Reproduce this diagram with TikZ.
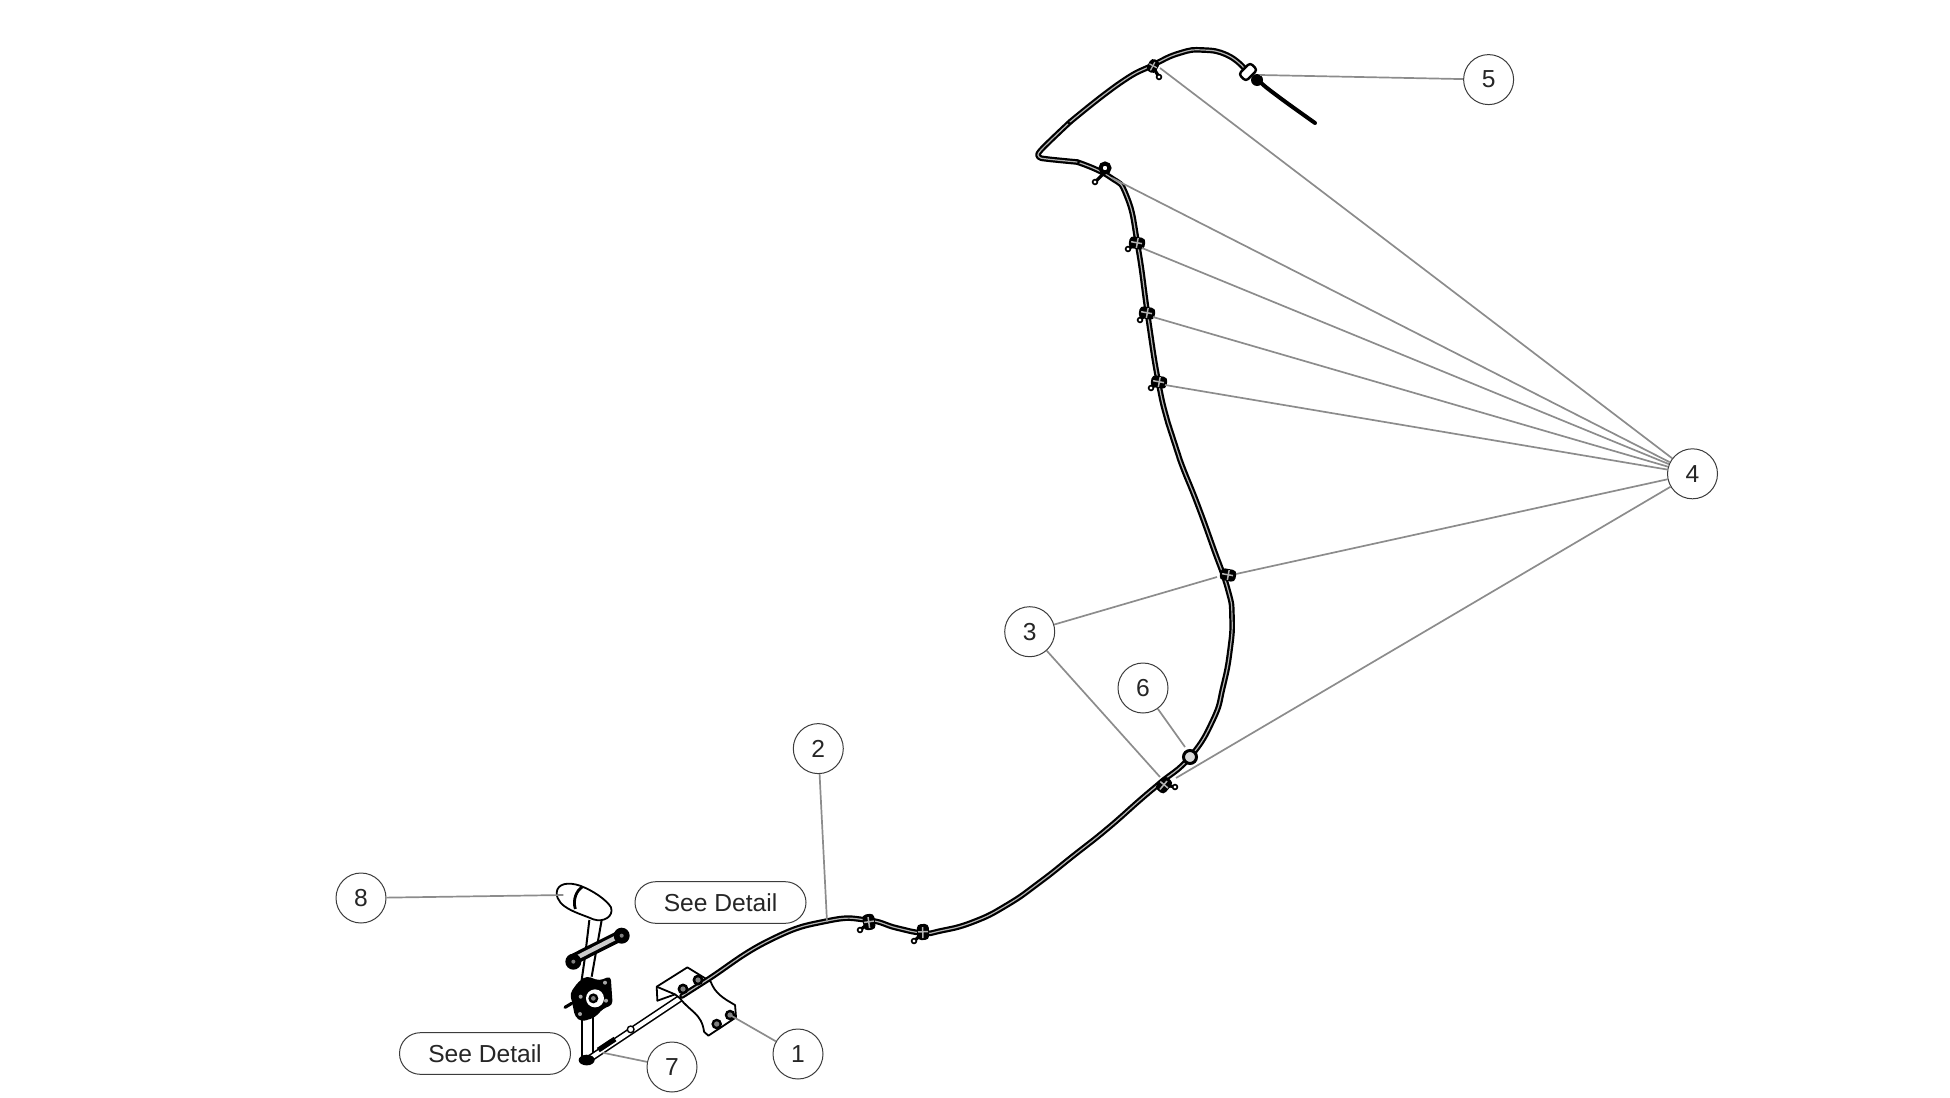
\documentclass[tikz,border=0pt]{standalone}
\usepackage{fontspec}
\setmainfont{Liberation Sans}
\usetikzlibrary{positioning}

\definecolor{leadergray}{HTML}{8C8C8C}
\definecolor{ringgray}{HTML}{3C3C3C}
\definecolor{cablecore}{HTML}{B4B4B4}

\newcommand{\cliptab}[2]{
	\draw[black, line width=1.6pt, line cap=round] #1 -- #2;
	\draw[black, line width=0.8pt, fill=white] #2 circle (2.4);
}

\tikzset{
	callout/.style={circle, draw=ringgray, line width=0.5pt, fill=white, inner sep=0pt, minimum size=25pt, font=\fontsize{12.3}{14}\selectfont, text=black!85},
	detailbox/.style={rounded corners=10.4pt, draw=ringgray, line width=0.5pt, fill=white, inner sep=0pt, minimum width=85.5pt, minimum height=20.8pt, font=\fontsize{12.3}{14}\selectfont, text=black!85},
	leader/.style={draw=leadergray, line width=0.85pt},
	cable/.style={draw=black, line width=1.1pt, double=cablecore, double distance=0.6pt, line cap=round, line join=round},
	thincable/.style={draw=black, line width=0.8pt, double=white, double distance=2.1pt},
	partline/.style={draw=black, line width=0.9pt, fill=white, line join=round},
	cableclip/.pic={
		\fill[black, rounded corners=2pt] (-6,-8) rectangle (6,8);
		\fill[cablecore] (-5,-1) rectangle (5,0.5);
		\fill[cablecore] (-1,-5) rectangle (0.5,6);
	},
}

\begin{document}
\begin{tikzpicture}[x=0.5pt, y=-0.5pt]
	\useasboundingbox (0,0) rectangle (1950,1098);

	% lever and bracket, in the coordinates of the crop
	\begin{scope}[shift={(540,870)}, x=0.1667pt, y=-0.1667pt]
		% shaft
		\draw[black, line width=1pt] (148,150) -- (135,260) -- (125,330);
		\draw[black, line width=1pt] (185,150) -- (155,320);
		\draw[black, line width=1pt] (125,430) -- (125,565);
		\draw[black, line width=1pt] (158,430) -- (158,550);
		% handle
		\draw[partline] (50,68) .. controls (52,40) and (85,35) .. (120,47) .. controls (160,62) and (200,90) .. (213,112) .. controls (222,140) and (190,158) .. (160,148) .. controls (120,130) and (50,115) .. (50,68);
		\draw[black, line width=1.4pt] (128,50) .. controls (108,62) and (98,90) .. (106,117);
		% cross bar
		\draw[black, line width=5.6pt, line cap=round] (100,268) -- (245,195);
		\draw[white!80!black, line width=2.2pt] (108,264) -- (235,199);
		\foreach \bx/\by in {100/275, 245/197} {
			\fill[black] (\bx,\by) circle (24);
			\fill[gray] (\bx,\by) circle (6);
		}
		% hub
		\fill[black, rounded corners=2pt] (140,318) -- (178,332) -- (212,318) -- (218,405) -- (190,415) -- (165,442) -- (125,455) -- (105,440) -- (98,405) -- (90,370) -- (115,335) -- cycle;
		\fill[white] (165,385) circle (27);
		\fill[black] (160,385) circle (15);
		\fill[gray] (160,385) circle (7);
		\foreach \bx/\by in {195/338, 198/392, 122/380, 120/432} {
			\fill[gray!70] (\bx,\by) circle (6);
		}
		\draw[black, line width=1.6pt, line cap=round] (95,400) -- (75,412);
		% lower cable run
		\draw[thincable] (150,565) -- (420,385);
		\fill[black] (140,570) ellipse (24 and 16);
		\draw[black, line width=2.6pt] (175,540) -- (225,507);
		\draw[black, line width=0.7pt, fill=white] (272,478) circle (10);
		% bracket
		\draw[partline] (420,385) .. controls (450,425) and (485,430) .. (492,485) -- (505,497) -- (588,442) -- (585,405) .. controls (550,385) and (525,370) .. (512,335) -- (442,292) -- (350,350) -- (352,392) -- (405,373) -- cycle;
		\draw[black, line width=0.9pt] (350,350) -- (405,373);
		\foreach \bx/\by in {530/462, 570/435} {
			\fill[black] (\bx,\by) circle (16);
			\fill[gray] (\bx,\by) circle (8);
		}
		\coordinate (handleend) at (70,75);
		\coordinate (cableend) at (188,548);
		\coordinate (boltend) at (570,435);
	\end{scope}

	% cable
	\draw[cable] plot[smooth, tension=0.85] coordinates {(682,996) (707,980) (770,940) (827,921) (867,920) (897,928) (923,933) (940,931) (973,922) (1007,905) (1040,882) (1073,856) (1107,829) (1140,800) (1160,783) (1190,757) (1213,720) (1223,687) (1230,650) (1232,617) (1228,590) (1213,547) (1197,503) (1180,460) (1168,423) (1158,380) (1148,317) (1138,247) (1127,197) (1110,177) (1077,162)};
	\draw[cable] plot[smooth, tension=0.55] coordinates {(1077,162) (1047,159) (1039,157) (1041,150) (1070,122)};
	\draw[cable] plot[smooth, tension=0.85] coordinates {(1070,122) (1120,83) (1153,65) (1180,53) (1203,50) (1227,55) (1244,68)};
	\draw[black, line width=2pt, line cap=round] plot[smooth, tension=0.5] coordinates {(1258,80) (1267,88) (1287,103) (1315,123)};

	% bolts on the cable
	\foreach \bx/\by in {683/989, 698/980} {
		\fill[black] (\bx,\by) circle (5.5);
		\fill[gray] (\bx,\by) circle (2.6);
	}

	% sleeve at the far end
	\draw[partline, line width=1.2pt, rounded corners=1.5pt, rotate around={45:(1248,72)}] (1240,67) rectangle (1256,77);
	\fill[black] (1257,80) circle (6);

	% clips
	\cliptab{(869,923)}{(860,930)}
	\cliptab{(923,933)}{(914,941)}
	\cliptab{(1165,785)}{(1175,787)}
	\cliptab{(1137,243)}{(1128,249)}
	\cliptab{(1147,313)}{(1140,320)}
	\cliptab{(1159,382)}{(1151,388)}
	\cliptab{(1153,67)}{(1159,77)}
	\cliptab{(1105,172)}{(1095,182)}
	\pic at (869,922) [rotate=8] {cableclip};
	\pic at (923,932) [rotate=2] {cableclip};
	\pic at (1164,785) [rotate=-40] {cableclip};
	\pic at (1228,575) [rotate=-100] {cableclip};
	\pic at (1159,382) [rotate=-100] {cableclip};
	\pic at (1147,313) [rotate=-100] {cableclip};
	\pic at (1137,243) [rotate=-100] {cableclip};
	\pic at (1153,66) [rotate=-28, scale=0.85] {cableclip};
	\draw[black, line width=2pt, fill=white] (1105,168) circle (4.5);

	% collar
	\draw[black, line width=1.5pt, fill=white!85!black] (1190,757) circle (6.5);

	% callouts
	\node[callout] (1) at (798,1054) {1};
	\node[callout] (2) at (818.3,748.6) {2};
	\node[callout] (3) at (1029.7,631.7) {3};
	\node[callout] (4) at (1692.5,473.8) {4};
	\node[callout] (5) at (1488.6,79.6) {5};
	\node[callout] (6) at (1143,688) {6};
	\node[callout] (7) at (672,1067) {7};
	\node[callout] (8) at (361,898) {8};
	\node[detailbox] (detail1) at (720.5,902.5) {See Detail};
	\node[detailbox] (detail2) at (485,1053.5) {See Detail};

	% ends of the leaders
	\coordinate (cable2) at (827,922);
	\coordinate (clip1) at (1160,68);
	\coordinate (clip2) at (1112,178);
	\coordinate (clip3) at (1142,248);
	\coordinate (clip4) at (1153,317);
	\coordinate (clip5) at (1165,385);
	\coordinate (clip6) at (1236,574);
	\coordinate (clip6b) at (1217,577);
	\coordinate (clip7) at (1176,778);
	\coordinate (clip7b) at (1160,777);
	\coordinate (tip5) at (1260,75);
	\coordinate (collar) at (1185,747);

	\begin{scope}[every path/.style={leader}]
		\draw (1) -- (boltend);
		\draw (2) -- (cable2);
		\draw (3) -- (clip6b);
		\draw (3) -- (clip7b);
		\draw (4) -- (clip1);
		\draw (4) -- (clip2);
		\draw (4) -- (clip3);
		\draw (4) -- (clip4);
		\draw (4) -- (clip5);
		\draw (4) -- (clip6);
		\draw (4) -- (clip7);
		\draw (5) -- (tip5);
		\draw (6) -- (collar);
		\draw (7) -- (cableend);
		\draw (8) -- (handleend);
	\end{scope}
\end{tikzpicture}
\end{document}
